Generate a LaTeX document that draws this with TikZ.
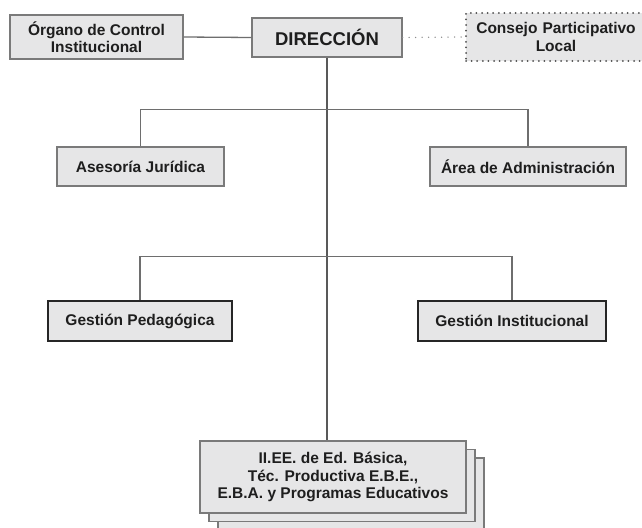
\documentclass[tikz,border=0pt]{standalone}
\usepackage{fontspec}
\setmainfont{Liberation Sans}
\definecolor{boxfill}{HTML}{E6E6E7}
\definecolor{boxline}{HTML}{7A7A7A}
\definecolor{txt}{HTML}{1E1E1E}
\definecolor{conn}{HTML}{6E6E6E}
\tikzset{
  box/.style={draw=boxline, fill=boxfill, line width=1.2pt, inner sep=0pt, align=center,
    text=txt, font=\fontsize{15.5}{17.5}\selectfont\bfseries},
  thickbox/.style={box, draw=black!85, line width=2.6pt},
  dotbox/.style={box, draw=black!70, line width=2pt, dash pattern=on 0pt off 5.6pt, line cap=round},
  conline/.style={draw=conn, line width=1.3pt},
  mainline/.style={draw=black!65, line width=1.6pt},
  dotline/.style={draw=black!45, line width=1.5pt, dash pattern=on 0pt off 6.5pt, line cap=round},
}
\begin{document}
\begin{tikzpicture}[x=1pt,y=-1pt]
\clip (0,0) rectangle (642,527);
\fill[white] (0,0) rectangle (642,527);
\node[box, minimum width=173pt, minimum height=44pt] (org) at (96.5,37) {Órgano de Control\\Institucional};
\node[box, minimum width=150pt, minimum height=39pt, font=\fontsize{18.5}{20}\selectfont\bfseries] (dir) at (327,37.5) {DIRECCIÓN};
\node[dotbox, minimum width=180pt, minimum height=48pt, text width=170pt] (con) at (556,37) {Consejo Participativo\\Local};
\node[box, minimum width=167pt, minimum height=39pt] (ase) at (140.5,166.5) {Asesoría Jurídica};
\node[box, minimum width=196pt, minimum height=39pt] (are) at (528,166.5) {Área de Administración};
\node[thickbox, minimum width=184pt, minimum height=40pt] (gp) at (140,321) {Gestión Pedagógica};
\node[thickbox, minimum width=188pt, minimum height=40pt] (gi) at (512,321) {Gestión Institucional};
\node[box, minimum width=266pt, minimum height=72pt] (iee3) at (351,494) {};
\node[box, minimum width=266pt, minimum height=72pt] (iee2) at (342,485.5) {};
\node[box, minimum width=266pt, minimum height=72pt] (iee) at (333,477) {II.EE. de Ed. Básica,\\Téc. Productiva E.B.E.,\\E.B.A. y Programas Educativos};
\draw[conline] (org.east) -- (dir.west);
\draw[dotline] (dir.east) -- (con.west);
\draw[mainline] (dir.south) -- (dir.south |- iee.north);
\draw[conline] (ase.north) -- ++(0,-37) -| (are.north);
\draw[conline] (gp.north) -- ++(0,-43) -| (gi.north);
\end{tikzpicture}
\end{document}
